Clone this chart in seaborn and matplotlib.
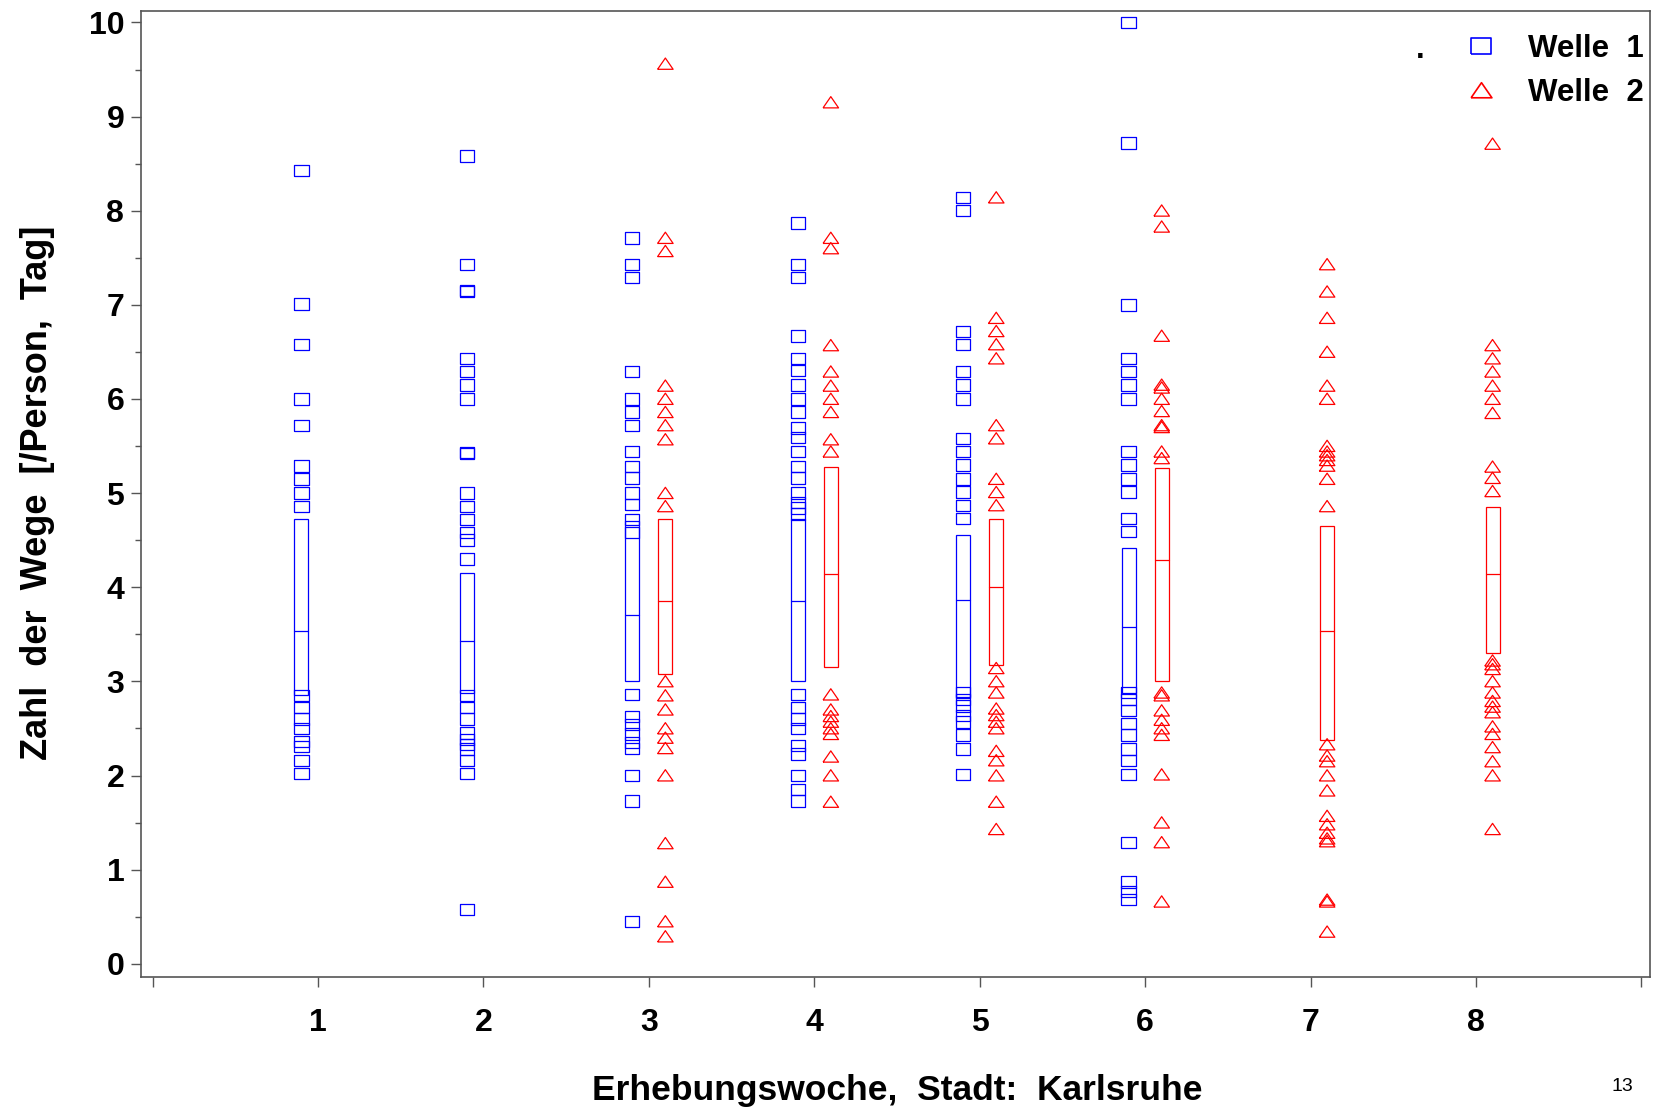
import pandas as pd
import seaborn as sns
import matplotlib.pyplot as plt
from matplotlib.patches import Rectangle
from matplotlib.lines import Line2D
from matplotlib.ticker import MultipleLocator

weeks = [1, 2, 3, 4, 5, 6, 7, 8]

# Welle 1 - single values per week (weeks 7 and 8 have no data)
welle1_values = [
    [8.43, 7.01, 6.58, 6.0, 5.72, 5.29, 5.15, 5.0, 4.86, 2.85, 2.72, 2.6, 2.5, 2.36, 2.31, 2.16, 2.02],
    [8.58, 7.43, 7.15, 7.14, 6.43, 6.29, 6.15, 6.0, 5.43, 5.42, 5.0, 4.86, 4.72, 4.58, 4.5, 4.3,
     2.85, 2.72, 2.6, 2.45, 2.38, 2.33, 2.28, 2.16, 2.02, 0.58],
    [7.71, 7.43, 7.29, 6.29, 6.0, 5.86, 5.72, 5.44, 5.28, 5.16, 5.0, 4.88, 4.72, 4.58,
     2.86, 2.63, 2.54, 2.44, 2.35, 2.29, 2.0, 1.73, 0.45],
    [7.87, 7.43, 7.29, 6.67, 6.43, 6.3, 6.15, 6.0, 5.86, 5.69, 5.59, 5.44, 5.28, 5.16, 5.0, 4.9, 4.84, 4.78,
     2.86, 2.72, 2.6, 2.5, 2.32, 2.23, 2.0, 1.85, 1.73],
    [8.14, 8.0, 6.72, 6.58, 6.29, 6.15, 6.0, 5.58, 5.44, 5.3, 5.15, 5.01, 4.87, 4.73,
     2.88, 2.81, 2.74, 2.64, 2.57, 2.43, 2.28, 2.01],
    [10.0, 8.72, 7.0, 6.43, 6.29, 6.15, 6.0, 5.44, 5.3, 5.15, 5.01, 4.73, 4.59,
     2.88, 2.81, 2.69, 2.55, 2.43, 2.28, 2.16, 2.01, 1.29, 0.87, 0.77, 0.68],
    [],
    [],
]
welle1_q1 = [2.86, 2.88, 3.0, 3.0, 2.83, 2.88, None, None]
welle1_median = [3.54, 3.43, 3.71, 3.85, 3.86, 3.58, None, None]
welle1_q3 = [4.72, 4.15, 4.7, 4.72, 4.56, 4.42, None, None]

# Welle 2 - starts in week 3
welle2_values = [
    [],
    [],
    [9.56, 7.71, 7.57, 6.14, 6.0, 5.86, 5.72, 5.57, 5.0, 4.86, 3.0, 2.85, 2.7, 2.5, 2.4, 2.29, 2.0,
     1.28, 0.87, 0.45, 0.29],
    [9.15, 7.71, 7.6, 6.57, 6.29, 6.14, 6.0, 5.86, 5.57, 5.44, 2.86, 2.7, 2.63, 2.57, 2.5, 2.44, 2.2,
     2.0, 1.72],
    [8.14, 6.86, 6.72, 6.58, 6.43, 5.72, 5.58, 5.15, 5.01, 4.87, 3.14, 3.0, 2.88, 2.71, 2.64, 2.57,
     2.5, 2.26, 2.16, 2.0, 1.72, 1.43],
    [8.0, 7.83, 6.67, 6.15, 6.12, 6.0, 5.87, 5.72, 5.7, 5.44, 5.37, 2.88, 2.85, 2.69, 2.59, 2.5, 2.43,
     2.01, 1.5, 1.29, 0.66],
    [7.43, 7.14, 6.86, 6.5, 6.14, 6.0, 5.5, 5.44, 5.4, 5.35, 5.29, 5.15, 4.86, 2.33, 2.21, 2.15, 2.0,
     1.84, 1.57, 1.48, 1.39, 1.33, 1.3, 0.68, 0.66, 0.34],
    [8.71, 6.57, 6.43, 6.29, 6.14, 6.0, 5.85, 5.28, 5.16, 5.02, 3.22, 3.18, 3.13, 3.0, 2.88, 2.79,
     2.73, 2.67, 2.52, 2.44, 2.3, 2.15, 2.0, 1.43],
]
welle2_q1 = [None, None, 3.08, 3.15, 3.17, 3.0, 2.38, 3.3]
welle2_median = [None, None, 3.85, 4.14, 4.0, 4.29, 3.54, 4.14]
welle2_q3 = [None, None, 4.72, 5.28, 4.73, 5.27, 4.65, 4.85]

FONT = ['Liberation Sans', 'DejaVu Sans']

sns.set_style("white")
plt.rcParams['font.family'] = FONT
plt.rcParams['font.weight'] = 'bold'
plt.rcParams['text.color'] = 'black'
plt.rcParams['axes.labelcolor'] = 'black'
plt.rcParams['xtick.color'] = 'black'
plt.rcParams['ytick.color'] = 'black'

# SAS-like open markers (wider than tall)
sq_marker = [(-1, -0.8), (1, -0.8), (1, 0.8), (-1, 0.8), (-1, -0.8)]
tri_marker = [(-1, -0.7), (1, -0.7), (0, 0.75), (-1, -0.7)]

series = [
    ("Welle 1", welle1_values, welle1_q1, welle1_median, welle1_q3, -0.1, "#0000FF", sq_marker, 105),
    ("Welle 2", welle2_values, welle2_q1, welle2_median, welle2_q3, 0.1, "#FF0000", tri_marker, 125),
]

fig = plt.figure(figsize=(16.58, 11.14), dpi=100)
ax = fig.add_axes([0.085, 0.123, 0.910, 0.867])

box_w = 0.085
for name, values, q1, med, q3, off, col, mk, size in series:
    rows = []
    for wk, vals in zip(weeks, values):
        for v in vals:
            rows.append({"week": wk, "x": wk + off, "value": v})
    df = pd.DataFrame(rows)
    sns.scatterplot(data=df, x="x", y="value", ax=ax, marker=mk, s=size,
                    facecolor="none", edgecolor=col, linewidth=0.9, legend=False)
    for wk, a, m, b in zip(weeks, q1, med, q3):
        if a is None:
            continue
        ax.add_patch(Rectangle((wk + off - box_w / 2, a), box_w, b - a,
                               fill=False, edgecolor=col, linewidth=0.9))
        ax.plot([wk + off - box_w / 2, wk + off + box_w / 2], [m, m], color=col, linewidth=0.9)

ax.set_xlim(-0.07, 9.05)
ax.set_ylim(-0.14, 10.12)
ax.set_xticks(range(0, 10))
ax.set_xticklabels([""] + [str(w) for w in weeks] + [""])
ax.set_yticks(range(0, 11))
ax.yaxis.set_minor_locator(MultipleLocator(0.5))
ax.tick_params(axis="both", which="major", direction="out", length=7, width=1, color="#555555",
               labelsize=23, bottom=True, left=True)
ax.tick_params(axis="y", which="minor", direction="out", length=4, width=1, color="#555555", left=True)
ax.tick_params(axis="x", pad=15)
ax.tick_params(axis="y", pad=5)
for s in ax.spines.values():
    s.set_color("#555555")
    s.set_linewidth(1.2)

ax.set_xlabel("Erhebungswoche,  Stadt:  Karlsruhe", fontsize=25.5, fontweight="bold")
ax.set_ylabel("Zahl  der  Wege  [/Person,  Tag]", fontsize=26, fontweight="bold")
ax.xaxis.set_label_coords(0.501, -0.118)
ax.xaxis.label.set_va("center")
ax.yaxis.set_label_coords(-0.0687, 0.501)
ax.yaxis.label.set_va("center")

handles = [
    Line2D([], [], linestyle="none", marker=sq_marker, markersize=14, markerfacecolor="none",
           markeredgecolor="#0000FF", markeredgewidth=1.2, label="Welle  1"),
    Line2D([], [], linestyle="none", marker=tri_marker, markersize=15, markerfacecolor="none",
           markeredgecolor="#FF0000", markeredgewidth=1.2, label="Welle  2"),
]
ax.legend(handles=handles, loc="upper right", bbox_to_anchor=(1.0, 0.983), frameon=False,
          handletextpad=0.9, handlelength=1.2, borderaxespad=0.0, borderpad=0.2, labelspacing=0.45,
          prop={"family": FONT, "weight": "bold", "size": 22.5})

ax.text(0.848, 0.952, ".", transform=ax.transAxes, fontsize=22, fontweight="bold",
        ha="center", va="baseline")
fig.text(0.985, 0.025, "13", fontsize=14, ha="right", va="center", fontweight="normal")

fig.savefig("out.png", dpi=100)
